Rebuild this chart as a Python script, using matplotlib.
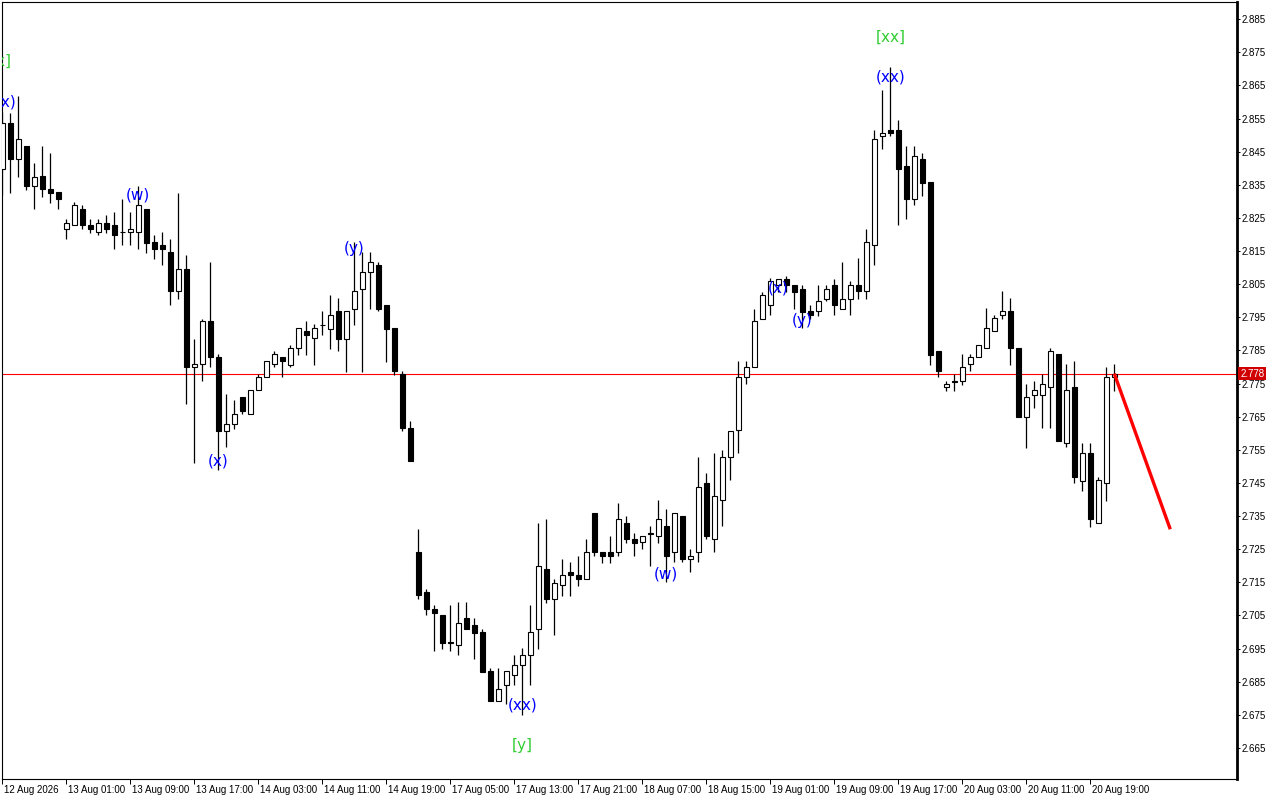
import numpy as np
import matplotlib
matplotlib.use("Agg")
import matplotlib.pyplot as plt
from matplotlib.transforms import ScaledTranslation

# hourly candles (index 0 = 12 Aug 17:00)
opens = [2.8397, 2.8538, 2.8427, 2.8467, 2.8345, 2.8377, 2.8338, 2.8328, 2.8216, 2.8228,
         2.8276, 2.8228, 2.8208, 2.8236, 2.8228, 2.8208, 2.8208, 2.8208, 2.8276, 2.8177,
         2.8168, 2.8147, 2.8029, 2.8097, 2.7799, 2.7809, 2.7940, 2.7829, 2.7608, 2.7628,
         2.7708, 2.7658, 2.7731, 2.7769, 2.7809, 2.7829, 2.7807, 2.7857, 2.7910, 2.7888,
         2.7928, 2.7916, 2.7970, 2.7885, 2.7976, 2.8036, 2.8087, 2.8109, 2.7986, 2.7918,
         2.7779, 2.7616, 2.7241, 2.7121, 2.7070, 2.7050, 2.6969, 2.6960, 2.7042, 2.7020,
         2.7000, 2.6881, 2.6790, 2.6839, 2.6869, 2.6899, 2.6929, 2.7010, 2.7189, 2.7098,
         2.7141, 2.7181, 2.7171, 2.7159, 2.7358, 2.7241, 2.7241, 2.7241, 2.7328, 2.7280,
         2.7271, 2.7298, 2.7290, 2.7320, 2.7241, 2.7350, 2.7219, 2.7241, 2.7449, 2.7280,
         2.7398, 2.7527, 2.7610, 2.7771, 2.7799, 2.7946, 2.7986, 2.8047, 2.8067, 2.8047,
         2.8036, 2.7968, 2.7968, 2.8006, 2.8047, 2.7976, 2.8006, 2.8047, 2.8029, 2.8168,
         2.8496, 2.8516, 2.8516, 2.8407, 2.8306, 2.8427, 2.8359, 2.7847, 2.7739, 2.7757,
         2.7757, 2.7809, 2.7829, 2.7857, 2.7908, 2.7956, 2.7968, 2.7857, 2.7648, 2.7716,
         2.7716, 2.7739, 2.7839, 2.7570, 2.7739, 2.7457, 2.7539, 2.7328, 2.7449, 2.7769]
highs = [2.8570, 2.8568, 2.8618, 2.8467, 2.8415, 2.8467, 2.8447, 2.8328, 2.8246, 2.8298,
         2.8288, 2.8246, 2.8246, 2.8258, 2.8268, 2.8306, 2.8268, 2.8347, 2.8276, 2.8198,
         2.8208, 2.8186, 2.8326, 2.8137, 2.7885, 2.7946, 2.8117, 2.7839, 2.7718, 2.7700,
         2.7708, 2.7731, 2.7779, 2.7817, 2.7849, 2.7829, 2.7867, 2.7918, 2.7940, 2.7930,
         2.7970, 2.8018, 2.8008, 2.7970, 2.8177, 2.8147, 2.8147, 2.8117, 2.7986, 2.7918,
         2.7787, 2.7638, 2.7310, 2.7129, 2.7080, 2.7050, 2.7080, 2.7090, 2.7090, 2.7042,
         2.7010, 2.6891, 2.6891, 2.6881, 2.6929, 2.6951, 2.7080, 2.7330, 2.7340, 2.7159,
         2.7219, 2.7211, 2.7229, 2.7280, 2.7358, 2.7241, 2.7290, 2.7388, 2.7350, 2.7300,
         2.7290, 2.7320, 2.7398, 2.7372, 2.7358, 2.7350, 2.7249, 2.7529, 2.7479, 2.7541,
         2.7549, 2.7608, 2.7819, 2.7819, 2.7976, 2.8026, 2.8069, 2.8067, 2.8075, 2.8047,
         2.8047, 2.7988, 2.8047, 2.8047, 2.8067, 2.8117, 2.8059, 2.8129, 2.8216, 2.8516,
         2.8637, 2.8707, 2.8546, 2.8467, 2.8467, 2.8447, 2.8359, 2.7847, 2.7757, 2.7779,
         2.7839, 2.7839, 2.7867, 2.7978, 2.7956, 2.8030, 2.8008, 2.7857, 2.7749, 2.7759,
         2.7779, 2.7857, 2.7839, 2.7809, 2.7819, 2.7570, 2.7570, 2.7469, 2.7799, 2.7809]
lows = [2.8319, 2.8326, 2.8375, 2.8335, 2.8276, 2.8314, 2.8296, 2.8276, 2.8186, 2.8228,
        2.8216, 2.8206, 2.8198, 2.8206, 2.8157, 2.8168, 2.8168, 2.8157, 2.8145, 2.8127,
        2.8107, 2.7986, 2.8006, 2.7688, 2.7509, 2.7757, 2.7799, 2.7489, 2.7558, 2.7612,
        2.7658, 2.7658, 2.7731, 2.7769, 2.7799, 2.7769, 2.7799, 2.7837, 2.7837, 2.7807,
        2.7898, 2.7855, 2.7847, 2.7785, 2.7928, 2.7785, 2.7976, 2.7968, 2.7815, 2.7777,
        2.7606, 2.7517, 2.7098, 2.7050, 2.6941, 2.6949, 2.6941, 2.6929, 2.7010, 2.6919,
        2.6879, 2.6790, 2.6790, 2.6782, 2.6839, 2.6750, 2.6839, 2.6949, 2.7088, 2.6990,
        2.7108, 2.7108, 2.7139, 2.7159, 2.7229, 2.7209, 2.7209, 2.7229, 2.7269, 2.7229,
        2.7249, 2.7199, 2.7269, 2.7151, 2.7211, 2.7211, 2.7181, 2.7211, 2.7280, 2.7241,
        2.7320, 2.7459, 2.7539, 2.7749, 2.7799, 2.7946, 2.7956, 2.8026, 2.8026, 2.7976,
        2.7918, 2.7946, 2.7954, 2.7998, 2.7956, 2.7976, 2.7956, 2.8006, 2.8006, 2.8107,
        2.8457, 2.8496, 2.8228, 2.8246, 2.8288, 2.8316, 2.7807, 2.7769, 2.7728, 2.7728,
        2.7746, 2.7787, 2.7829, 2.7857, 2.7908, 2.7946, 2.7807, 2.7648, 2.7555, 2.7676,
        2.7616, 2.7616, 2.7577, 2.7558, 2.7449, 2.7426, 2.7318, 2.7328, 2.7396, 2.7728]
closes = [2.8536, 2.8427, 2.8488, 2.8345, 2.8375, 2.8337, 2.8326, 2.8306, 2.8236, 2.8288,
          2.8228, 2.8216, 2.8236, 2.8216, 2.8198, 2.8207, 2.8216, 2.8288, 2.8175, 2.8157,
          2.8157, 2.8029, 2.8097, 2.7799, 2.7809, 2.7940, 2.7829, 2.7608, 2.7628, 2.7658,
          2.7668, 2.7731, 2.7769, 2.7817, 2.7839, 2.7817, 2.7857, 2.7918, 2.7898, 2.7918,
          2.7927, 2.7956, 2.7885, 2.7970, 2.8029, 2.8087, 2.8117, 2.7976, 2.7916, 2.7787,
          2.7616, 2.7517, 2.7111, 2.7068, 2.7058, 2.6967, 2.6968, 2.7028, 2.7010, 2.6998,
          2.6879, 2.6790, 2.6828, 2.6881, 2.6899, 2.6929, 2.7000, 2.7199, 2.7098, 2.7149,
          2.7171, 2.7171, 2.7159, 2.7241, 2.7241, 2.7229, 2.7229, 2.7340, 2.7280, 2.7269,
          2.7290, 2.7297, 2.7340, 2.7229, 2.7358, 2.7221, 2.7229, 2.7438, 2.7290, 2.7410,
          2.7527, 2.7608, 2.7769, 2.7799, 2.7938, 2.8017, 2.8059, 2.8067, 2.8047, 2.8026,
          2.7966, 2.7956, 2.7998, 2.8036, 2.7986, 2.8006, 2.8047, 2.8029, 2.8177, 2.8488,
          2.8506, 2.8506, 2.8397, 2.8306, 2.8437, 2.8357, 2.7837, 2.7787, 2.7749, 2.7756,
          2.7799, 2.7829, 2.7867, 2.7918, 2.7948, 2.7968, 2.7857, 2.7648, 2.7708, 2.7731,
          2.7749, 2.7847, 2.7577, 2.7731, 2.7469, 2.7539, 2.7340, 2.7459, 2.7769, 2.7778]

time_labels = ["12 Aug 2026", "13 Aug 01:00", "13 Aug 09:00", "13 Aug 17:00", "14 Aug 03:00",
               "14 Aug 11:00", "14 Aug 19:00", "17 Aug 05:00", "17 Aug 13:00", "17 Aug 21:00",
               "18 Aug 07:00", "18 Aug 15:00", "19 Aug 01:00", "19 Aug 09:00", "19 Aug 17:00",
               "20 Aug 03:00", "20 Aug 11:00", "20 Aug 19:00"]
label_every = 8

bid = 2.778

# wave labels: text, bar index, price
blue_labels = [("(xx)", -0.1, 2.8601), ("(w)", 17, 2.8318), ("(x)", 27, 2.7515),
               ("(y)", 44, 2.8157), ("(xx)", 65, 2.6778), ("(w)", 83, 2.7175),
               ("(x)", 97, 2.8039), ("(y)", 100, 2.7940), ("(xx)", 111, 2.8676)]
green_labels = [("[xx]", -0.7, 2.8724), ("[y]", 65, 2.6658), ("[xx]", 111, 2.8794)]

# projected move
proj_x = [139, 146]
proj_y = [2.778, 2.731]

o = np.array(opens); h = np.array(highs); l = np.array(lows); c = np.array(closes)
x = np.arange(len(o))
up = c >= o

fig = plt.figure(figsize=(12.8, 8), dpi=100)
ax = fig.add_axes([2/1280, 21/800, 1235/1280, 777/800])

ax.vlines(x, l, h, color="black", lw=0.9, zorder=2)
bot = np.minimum(o, c)
hgt = np.maximum(np.abs(c - o), 0.00005)
ax.bar(x[up], hgt[up], bottom=bot[up], width=0.58, facecolor="white",
       edgecolor="black", linewidth=0.8, zorder=3)
ax.bar(x[~up], hgt[~up], bottom=bot[~up], width=0.58, facecolor="black",
       edgecolor="black", linewidth=0.8, zorder=3)

ax.axhline(bid, color="#ff0000", lw=0.8, zorder=1)
ax.plot(proj_x, proj_y, color="#ff0000", lw=2.4, solid_capstyle="butt", zorder=4)

for txt, xi, yi in blue_labels:
    ax.text(xi, yi, txt, color="#0000ff", fontsize=11, ha="center", va="center",
            family="DejaVu Sans", zorder=5, clip_on=True)
for txt, xi, yi in green_labels:
    ax.text(xi, yi, txt, color="#32cd32", fontsize=11, ha="center", va="center",
            family="DejaVu Sans", zorder=5, clip_on=True)

ax.set_xlim(-0.0375, 154.34)
ax.set_ylim(2.6556, 2.8902)

# price scale on the right
ax.yaxis.tick_right()
yt = np.round(np.arange(2.665, 2.8851, 0.01), 3)
ax.set_yticks(yt)
ax.set_yticklabels([f"{v:.3f}" for v in yt])
ax.tick_params(axis="y", direction="out", length=2.5, width=0.7, pad=1, labelsize=7)

ax.set_xticks(np.arange(len(time_labels)) * label_every)
ax.set_xticklabels(time_labels)
ax.tick_params(axis="x", direction="out", length=3.5, width=0.7, pad=0.5, labelsize=7)
shift = ScaledTranslation(2/100, 0, fig.dpi_scale_trans)
for lab in ax.get_xticklabels():
    lab.set_ha("left")
    lab.set_fontfamily("Liberation Sans")
    lab.set_transform(lab.get_transform() + shift)
for lab in ax.get_yticklabels():
    lab.set_fontfamily("Liberation Sans")

for side in ["left", "top", "bottom"]:
    ax.spines[side].set_linewidth(0.8)
ax.spines["right"].set_linewidth(2.0)

ax.text(1.0025, bid, f"{bid:.3f}", transform=ax.get_yaxis_transform(), color="white",
        fontsize=7, family="Liberation Sans", ha="left", va="center", clip_on=False,
        zorder=10, bbox=dict(boxstyle="square,pad=0.18", fc="#d00000", ec="none"))

fig.savefig("out.png", dpi=100, facecolor="white")
